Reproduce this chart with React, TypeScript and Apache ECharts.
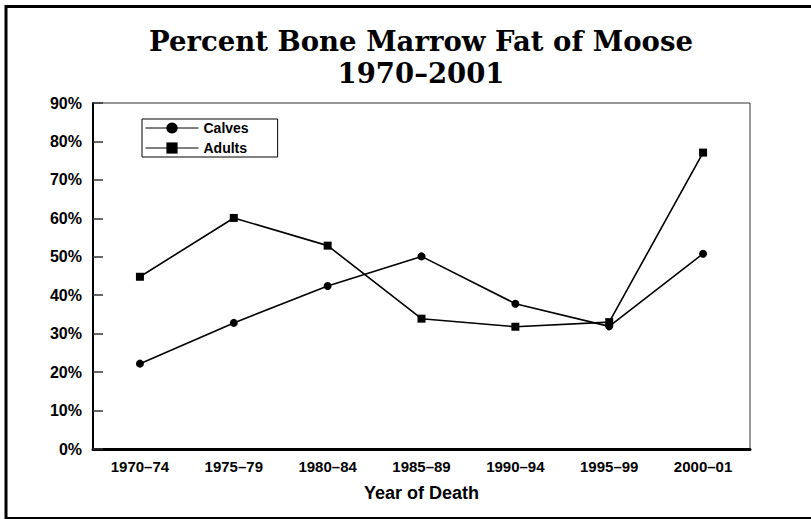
import React, { useEffect, useRef } from "react";
import * as echarts from "echarts";

const categories = ["1970–74", "1975–79", "1980–84", "1985–89", "1990–94", "1995–99", "2000–01"];
const calves = [22.2, 32.8, 42.4, 50.1, 37.8, 31.9, 50.8];
const adults = [44.8, 60.1, 52.9, 33.9, 31.8, 33.0, 77.1];
const yTicks = { min: 0, max: 90, interval: 10 };
const titleText = "Percent Bone Marrow Fat of Moose\n1970–2001";
const xAxisTitle = "Year of Death";

export default function App() {
  const ref = useRef<HTMLDivElement>(null);
  useEffect(() => {
    document.body.style.margin = "0";
    const chart = echarts.init(ref.current!, undefined, { renderer: "svg" });
    const sans = "Liberation Sans";
    chart.setOption({
      animation: false,
      backgroundColor: "#fff",
      title: {
        text: titleText,
        left: 416,
        textAlign: "center",
        top: 20,
        textStyle: {
          fontFamily: "DejaVu Serif",
          fontWeight: "bold",
          fontSize: 27.5,
          lineHeight: 32,
          color: "#000",
        },
      },
      graphic: [
        {
          type: "rect",
          shape: { x: 6, y: 6.5, width: 900, height: 512 },
          style: { fill: "none", stroke: "#000", lineWidth: 3 },
          silent: true,
          z: 100,
        },
      ],
      legend: {
        orient: "vertical",
        left: 142,
        top: 119,
        padding: [2, 29, 2, 3],
        itemGap: 6,
        itemWidth: 53,
        itemHeight: 14,
        borderColor: "#000",
        borderWidth: 1,
        backgroundColor: "#fff",
        lineStyle: { width: 1 },
        textStyle: { fontFamily: sans, fontWeight: "bold", fontSize: 14, color: "#000" },
        data: ["Calves", "Adults"],
      },
      grid: {
        left: 93,
        right: 61,
        top: 103,
        bottom: 70,
        show: true,
        borderColor: "#333",
        borderWidth: 1,
        containLabel: false,
      },
      xAxis: {
        type: "category",
        data: categories,
        boundaryGap: true,
        axisLine: { show: true, lineStyle: { color: "#000", width: 3 } },
        axisTick: { show: false },
        axisLabel: { margin: 10, fontFamily: sans, fontWeight: "bold", fontSize: 15, color: "#000" },
        name: xAxisTitle,
        nameLocation: "middle",
        nameGap: 35,
        nameTextStyle: { fontFamily: sans, fontWeight: "bold", fontSize: 18, color: "#000" },
        splitLine: { show: false },
      },
      yAxis: {
        type: "value",
        min: yTicks.min,
        max: yTicks.max,
        interval: yTicks.interval,
        axisLine: { show: true, lineStyle: { color: "#000", width: 2 } },
        axisTick: { show: true, inside: true, length: 10, lineStyle: { color: "#333", width: 1.5 } },
        axisLabel: {
          margin: 11,
          formatter: "{value}%",
          fontFamily: sans,
          fontWeight: "bold",
          fontSize: 16,
          color: "#000",
        },
        splitLine: { show: false },
      },
      series: [
        {
          name: "Calves",
          type: "line",
          data: calves,
          symbol: "circle",
          symbolSize: 8,
          lineStyle: { color: "#000", width: 1.6 },
          itemStyle: { color: "#000" },
        },
        {
          name: "Adults",
          type: "line",
          data: adults,
          symbol: "rect",
          symbolSize: 8,
          lineStyle: { color: "#000", width: 1.6 },
          itemStyle: { color: "#000" },
        },
      ],
    });
    return () => chart.dispose();
  }, []);
  return <div ref={ref} style={{ width: 811, height: 519 }} />;
}
